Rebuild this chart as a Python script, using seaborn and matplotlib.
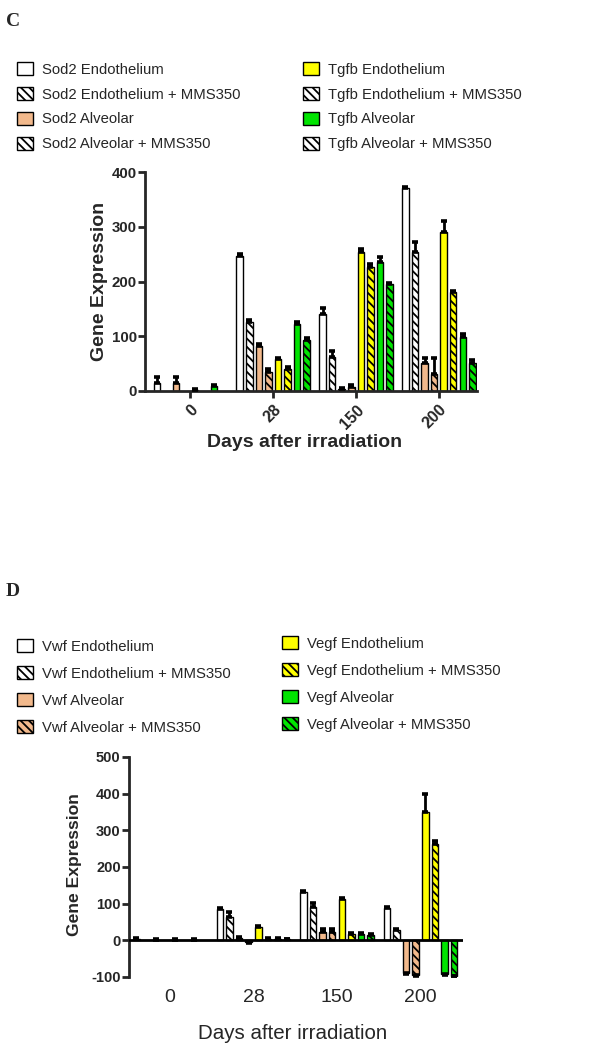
import numpy as np
import pandas as pd
import matplotlib.pyplot as plt
import seaborn as sns
from matplotlib.patches import Patch

# ---- data ----
days = ['0', '28', '150', '200']

c_series = ['Sod2 Endothelium', 'Sod2 Endothelium + MMS350',
            'Sod2 Alveolar', 'Sod2 Alveolar + MMS350',
            'Tgfb Endothelium', 'Tgfb Endothelium + MMS350',
            'Tgfb Alveolar', 'Tgfb Alveolar + MMS350']
sod2_endo = [14, 246, 141, 370]
sod2_endo_mms = [np.nan, 126, 62, 254]
sod2_alv = [15, 83, 4, 52]
sod2_alv_mms = [np.nan, 34, 8, 31]
tgfb_endo = [2, 59, 254, 290]
tgfb_endo_mms = [np.nan, 40, 227, 180]
tgfb_alv = [9, 123, 236, 99]
tgfb_alv_mms = [np.nan, 93, 196, 52]
c_err = [[12, 4, 11, 3], [0, 3, 11, 19], [11, 3, 2, 8], [0, 6, 3, 29],
         [2, 2, 5, 21], [0, 3, 5, 3], [2, 3, 8, 5], [0, 3, 2, 5]]

d_series = ['Vwf Endothelium', 'Vwf Endothelium + MMS350',
            'Vwf Alveolar', 'Vwf Alveolar + MMS350',
            'Vegf Endothelium', 'Vegf Endothelium + MMS350',
            'Vegf Alveolar', 'Vegf Alveolar + MMS350']
vwf_endo = [4, 86, 132, 87]
vwf_endo_mms = [np.nan, 65, 90, 29]
vwf_alv = [1, 6, 24, -89]
vwf_alv_mms = [np.nan, -4, 22, -94]
vegf_endo = [1, 36, 113, 349]
vegf_endo_mms = [np.nan, 5, 18, 264]
vegf_alv = [2, 4, 18, -93]
vegf_alv_mms = [np.nan, 3, 14, -96]
d_err = [[2, 2, 3, 3], [0, 11, 12, 3], [2, 2, 8, 2], [0, 2, 10, 2],
         [2, 3, 2, 50], [0, 2, 2, 6], [2, 2, 2, 2], [0, 2, 2, 2]]

fills = ['white', 'white', '#F2B98C', '#F2B98C', '#FFFF00', '#FFFF00', '#00E400', '#00E400']
hatched = [False, True, False, True, False, True, False, True]

c_df = pd.DataFrame({
    'day': np.repeat(days, 8),
    'series': c_series * 4,
    'value': np.array([sod2_endo, sod2_endo_mms, sod2_alv, sod2_alv_mms,
                       tgfb_endo, tgfb_endo_mms, tgfb_alv, tgfb_alv_mms]).T.ravel(),
}).dropna()
d_df = pd.DataFrame({
    'day': np.repeat(days, 8),
    'series': d_series * 4,
    'value': np.array([vwf_endo, vwf_endo_mms, vwf_alv, vwf_alv_mms,
                       vegf_endo, vegf_endo_mms, vegf_alv, vegf_alv_mms]).T.ravel(),
}).dropna()

sns.set_style('ticks')
plt.rcParams['font.family'] = ['Liberation Sans', 'DejaVu Sans']
plt.rcParams['hatch.linewidth'] = 1.3
plt.rcParams['axes.unicode_minus'] = False

fig = plt.figure(figsize=(5.97, 10.5), dpi=100)
W, H = 597, 1050

BAR_W = 0.923
HATCH = '\\\\\\\\'


def draw_bars(ax, df, series, err):
    sns.barplot(data=df, x='day', y='value', hue='series', order=days,
                hue_order=series, palette=fills, saturation=1, width=BAR_W,
                gap=0.32, edgecolor='black', linewidth=1, errorbar=None,
                legend=False, ax=ax, zorder=2)
    slot = BAR_W / 8
    for bar in ax.patches:
        cx = bar.get_x() + bar.get_width() / 2
        g = int(round(cx))
        k = int(round((cx - g + BAR_W / 2 - slot / 2) / slot))
        if hatched[k]:
            bar.set_hatch(HATCH)
        h = bar.get_height()
        e = err[k][g]
        if e > 0:
            yerr = [[0], [e]] if h >= 0 else [[e], [0]]
            ax.errorbar(cx, h, yerr=yerr, fmt='none', ecolor='black',
                        elinewidth=2, capsize=2.3, capthick=2.6, zorder=3)


def legend_col(labels, colors, hatches, x, y, spacing, fs=10.7):
    handles = [Patch(facecolor=c, edgecolor='black', linewidth=1,
                     hatch=HATCH if h else None) for c, h in zip(colors, hatches)]
    fig.legend(handles, labels, loc='upper left', bbox_to_anchor=(x / W, 1 - y / H),
               frameon=False, borderpad=0, borderaxespad=0, fontsize=fs,
               handlelength=1.1, handleheight=1.0, handletextpad=0.6,
               labelspacing=spacing)


# ---------------- panel C ----------------
fig.text(6 / W, 1 - 26 / H, 'C', family='Liberation Serif', weight='bold', fontsize=14)
legend_col(c_series[:4], ['white', 'white', '#F2B98C', 'white'],
           [False, True, False, True], 17, 62, 0.68)
legend_col(c_series[4:], ['#FFFF00', 'white', '#00E400', 'white'],
           [False, True, False, True], 303, 62, 0.68)

ax1 = fig.add_axes([145 / W, (H - 391) / H, 332 / W, 219 / H])
draw_bars(ax1, c_df, c_series, c_err)
ax1.set_ylim(0, 400)
ax1.set_xlim(-0.547, 3.46)
ax1.set_yticks([0, 100, 200, 300, 400])
sns.despine(ax=ax1)
for s in ['left', 'bottom']:
    ax1.spines[s].set_linewidth(2)
ax1.tick_params(axis='y', length=5, width=2, labelsize=10.8, pad=1)
ax1.tick_params(axis='x', length=5, width=2, labelsize=11.5, pad=3)
for t in ax1.get_yticklabels():
    t.set_fontweight('bold')
for t in ax1.get_xticklabels():
    t.set_fontweight('bold')
    t.set_rotation(45)
    t.set_ha('right')
    t.set_va('top')
    t.set_rotation_mode('anchor')
ax1.set_xlabel('Days after irradiation', fontsize=14, fontweight='bold')
ax1.xaxis.set_label_coords(0.48, -0.195)
ax1.set_ylabel('Gene Expression', fontsize=14, fontweight='bold')
ax1.yaxis.set_label_coords(-0.112, 0.5)

# ---------------- panel D ----------------
fig.text(6 / W, 1 - 596 / H, 'D', family='Liberation Serif', weight='bold', fontsize=14)
legend_col(d_series[:4], fills[:4], hatched[:4], 17, 639, 0.82)
legend_col(d_series[4:], fills[4:], hatched[4:], 282, 636, 0.82)

ax2 = fig.add_axes([129 / W, (H - 977) / H, 334 / W, 220 / H])
draw_bars(ax2, d_df, d_series, d_err)
ax2.set_ylim(-100, 500)
ax2.set_xlim(-0.491, 3.509)
ax2.set_yticks([-100, 0, 100, 200, 300, 400, 500])
sns.despine(ax=ax2, bottom=True)
ax2.spines['left'].set_linewidth(2)
ax2.axhline(0, color='black', lw=2, zorder=4)
ax2.tick_params(axis='y', length=5, width=2, labelsize=10.5, pad=1)
ax2.tick_params(axis='x', length=0, labelsize=14, pad=9)
for t in ax2.get_yticklabels():
    t.set_fontweight('bold')
ax2.set_xlabel('Days after irradiation', fontsize=14.8)
ax2.xaxis.set_label_coords(0.49, -0.215)
ax2.set_ylabel('Gene Expression', fontsize=12.6, fontweight='bold')
ax2.yaxis.set_label_coords(-0.14, 0.51)

fig.savefig('out.png', dpi=100, facecolor='white')
